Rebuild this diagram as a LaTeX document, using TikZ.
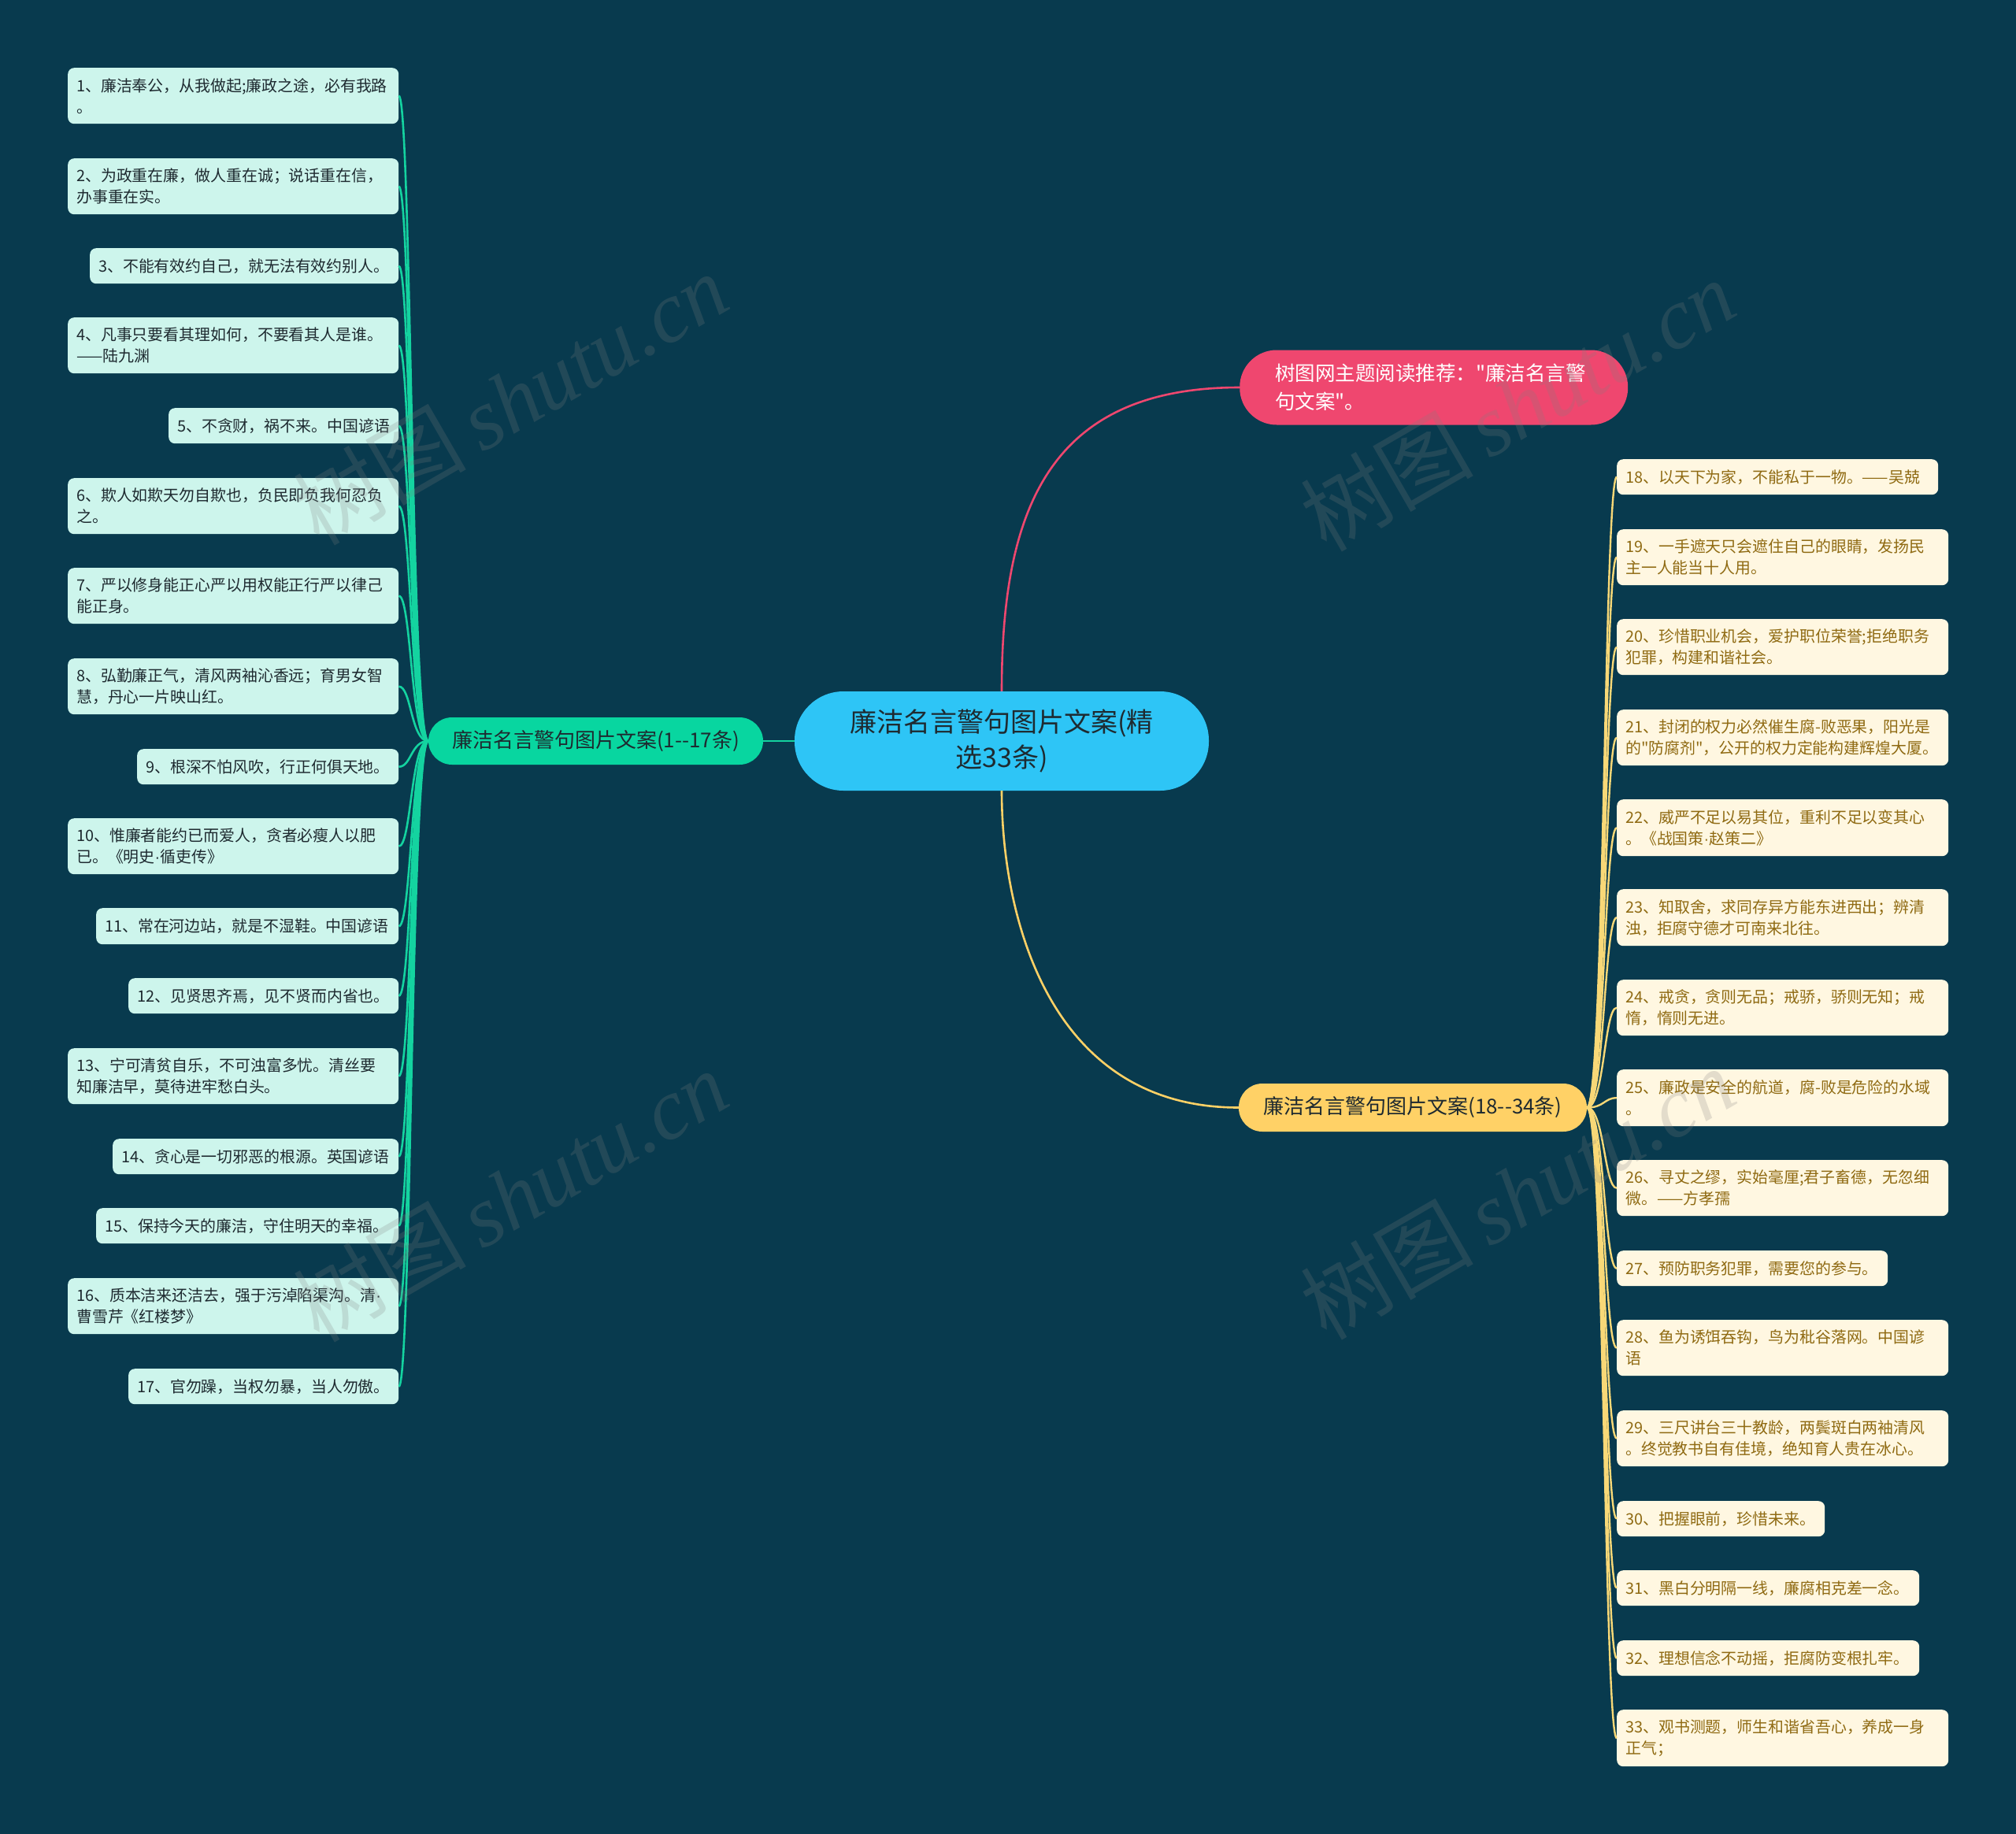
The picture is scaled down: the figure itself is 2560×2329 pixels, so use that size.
\documentclass[tikz,border=0pt]{standalone}
\usepackage{fontspec}
\setmainfont{Noto Sans CJK SC}[Ligatures=TeXOff]
\newfontfamily\wmfont{Liberation Serif}
\newfontfamily\latinfont{Liberation Sans}
\newcommand\mdot{{\latinfont ·}}
\usetikzlibrary{calc}
\definecolor{bg}{HTML}{083A4E}
\definecolor{mint}{HTML}{CDF5EC}
\definecolor{greenline}{HTML}{14D3A0}
\definecolor{greennode}{HTML}{08D6A0}
\definecolor{cyannode}{HTML}{2EC5F6}
\definecolor{pinknode}{HTML}{EF476F}
\definecolor{yellownode}{HTML}{FFD166}
\definecolor{yellowline}{HTML}{F8D877}
\definecolor{cream}{HTML}{FFF7E1}
\definecolor{browntext}{HTML}{8F6A12}
\definecolor{darktext}{HTML}{1E2A30}
\tikzset{
  litem/.style={fill=mint, rounded corners=8pt, anchor=north west, inner xsep=11pt, inner ysep=0pt, align=left, font=\fontsize{19.9}{27}\selectfont, text=darktext},
  ritem/.style={fill=cream, rounded corners=8pt, anchor=north west, inner xsep=11pt, inner ysep=0pt, align=left, font=\fontsize{19.9}{27}\selectfont, text=browntext},
  lconn/.style={draw=greenline, line width=2.6pt},
  rconn/.style={draw=yellowline, line width=2.4pt},
  wm/.style={text=gray, text opacity=0.22, font=\fontsize{110}{110}\selectfont, inner sep=0pt},
}
\newcommand\LI[5]{%
  \pgfmathsetmacro\mywd{506-#2}%
  \pgfmathsetmacro\mytw{506-#2-22}%
  \pgfmathsetmacro\myht{#4-#3}%
  \node[litem, minimum width=\mywd pt, text width=\mytw pt, minimum height=\myht pt] (#1) at (#2,#3) {#5};
  \draw[lconn] (#1.east) .. controls +(16,0) and ($(gnode.west)+(-22,0)$) .. (gnode.west);
}
\newcommand\RI[5]{%
  \pgfmathsetmacro\mywd{#2-2053}%
  \pgfmathsetmacro\mytw{#2-2053-22}%
  \pgfmathsetmacro\myht{#4-#3}%
  \node[ritem, minimum width=\mywd pt, text width=\mytw pt, minimum height=\myht pt] (#1) at (2053,#3) {#5};
  \draw[rconn] (ynode.east) .. controls +(22,0) and ($(#1.west)+(-16,0)$) .. (#1.west);
}
\begin{document}
\begin{tikzpicture}[x=1pt,y=-1pt]
\useasboundingbox (0,0) rectangle (2560,2329);
\fill[bg] (0,0) rectangle (2560,2329);

% main nodes
\node[fill=cyannode, minimum width=526pt, minimum height=126pt, rounded corners=62pt, inner sep=0pt, align=center, text=darktext, font=\fontsize{34}{45}\selectfont] (cnode) at (1272,941) {廉洁名言警句图片文案(精\\选33条)};
\node[fill=greennode, minimum width=425pt, minimum height=60pt, rounded corners=30pt, inner sep=0pt, text=darktext, font=\fontsize{26}{30}\selectfont] (gnode) at (756.5,941) {廉洁名言警句图片文案(1--17条)};
\node[fill=pinknode, anchor=west, minimum width=493pt, minimum height=95pt, rounded corners=47pt, inner xsep=45pt, inner ysep=0pt, text width=403pt, align=left, text=white, font=\fontsize{25.5}{36}\selectfont] (pnode) at (1574,492) {树图网主题阅读推荐："廉洁名言警\\句文案"。};
\node[fill=yellownode, minimum width=442pt, minimum height=61pt, rounded corners=30pt, inner sep=0pt, text=darktext, font=\fontsize{26}{30}\selectfont] (ynode) at (1794,1406.5) {廉洁名言警句图片文案(18--34条)};

\draw[lconn] (gnode.east) -- (cnode.west);
\draw[draw=pinknode, line width=2.6pt] (cnode.north) .. controls +(0,-228) and ($(pnode.west)+(-244,0)$) .. (pnode.west);
\draw[draw=yellownode, line width=2.6pt] (cnode.south) .. controls +(0,156) and ($(ynode.west)+(-243,0)$) .. (ynode.west);

% left items
\LI{l1}{86}{86}{157}{1、廉洁奉公，从我做起;廉政之途，必有我路\\。}
\LI{l2}{86}{201}{272}{2、为政重在廉，做人重在诚；说话重在信，\\办事重在实。}
\LI{l3}{114}{315}{360}{3、不能有效约自己，就无法有效约别人。}
\LI{l4}{86}{403}{474}{4、凡事只要看其理如何，不要看其人是谁。\\——陆九渊}
\LI{l5}{214}{518}{563}{5、不贪财，祸不来。中国谚语}
\LI{l6}{86}{607}{678}{6、欺人如欺天勿自欺也，负民即负我何忍负\\之。}
\LI{l7}{86}{721}{792}{7、严以修身能正心严以用权能正行严以律己\\能正身。}
\LI{l8}{86}{836}{907}{8、弘勤廉正气，清风两袖沁香远；育男女智\\慧，丹心一片映山红。}
\LI{l9}{174}{951}{996}{9、根深不怕风吹，行正何俱天地。}
\LI{l10}{86}{1039}{1110}{10、惟廉者能约已而爱人，贪者必瘦人以肥\\已。《明史\mdot 循吏传》}
\LI{l11}{122}{1153}{1199}{11、常在河边站，就是不湿鞋。中国谚语}
\LI{l12}{163}{1242}{1287}{12、见贤思齐焉，见不贤而内省也。}
\LI{l13}{86}{1331}{1402}{13、宁可清贫自乐，不可浊富多忧。清丝要\\知廉洁早，莫待进牢愁白头。}
\LI{l14}{143}{1446}{1491}{14、贪心是一切邪恶的根源。英国谚语}
\LI{l15}{122}{1534}{1579}{15、保持今天的廉洁，守住明天的幸福。}
\LI{l16}{86}{1623}{1694}{16、质本洁来还洁去，强于污淖陷渠沟。清\mdot\\曹雪芹《红楼梦》}
\LI{l17}{163}{1738}{1783}{17、官勿躁，当权勿暴，当人勿傲。}

% right items
\RI{r18}{2461}{583}{628}{18、以天下为家，不能私于一物。——吴兢}
\RI{r19}{2474}{672}{743}{19、一手遮天只会遮住自己的眼睛，发扬民\\主一人能当十人用。}
\RI{r20}{2474}{786}{857}{20、珍惜职业机会，爱护职位荣誉;拒绝职务\\犯罪，构建和谐社会。}
\RI{r21}{2474}{901}{972}{21、封闭的权力必然催生腐-败恶果，阳光是\\的"防腐剂"，公开的权力定能构建辉煌大厦。}
\RI{r22}{2474}{1015}{1087}{22、威严不足以易其位，重利不足以变其心\\。《战国策\mdot 赵策二》}
\RI{r23}{2474}{1129}{1201}{23、知取舍，求同存异方能东进西出；辨清\\浊，拒腐守德才可南来北往。}
\RI{r24}{2474}{1244}{1315}{24、戒贪，贪则无品；戒骄，骄则无知；戒\\惰，惰则无进。}
\RI{r25}{2474}{1358}{1430}{25、廉政是安全的航道，腐-败是危险的水域\\。}
\RI{r26}{2474}{1473}{1544}{26、寻丈之缪，实始毫厘;君子畜德，无忽细\\微。——方孝孺}
\RI{r27}{2397}{1588}{1633}{27、预防职务犯罪，需要您的参与。}
\RI{r28}{2474}{1676}{1747}{28、鱼为诱饵吞钩，鸟为秕谷落网。中国谚\\语}
\RI{r29}{2474}{1791}{1862}{29、三尺讲台三十教龄，两鬓斑白两袖清风\\。终觉教书自有佳境，绝知育人贵在冰心。}
\RI{r30}{2317}{1906}{1951}{30、把握眼前，珍惜未来。}
\RI{r31}{2437}{1994}{2039}{31、黑白分明隔一线，廉腐相克差一念。}
\RI{r32}{2437}{2083}{2128}{32、理想信念不动摇，拒腐防变根扎牢。}
\RI{r33}{2474}{2171}{2243}{33、观书测题，师生和谐省吾心，养成一身\\正气；}

% watermarks
\node[wm, rotate=30] (w1) at (648,506) {树图\,{\wmfont\itshape shutu.cn}};
\node[wm, rotate=30] (w2) at (648,1518) {树图\,{\wmfont\itshape shutu.cn}};
\node[wm, rotate=30] (w3) at (1927,514) {树图\,{\wmfont\itshape shutu.cn}};
\node[wm, rotate=30] (w4) at (1927,1515) {树图\,{\wmfont\itshape shutu.cn}};
\end{tikzpicture}
\end{document}
